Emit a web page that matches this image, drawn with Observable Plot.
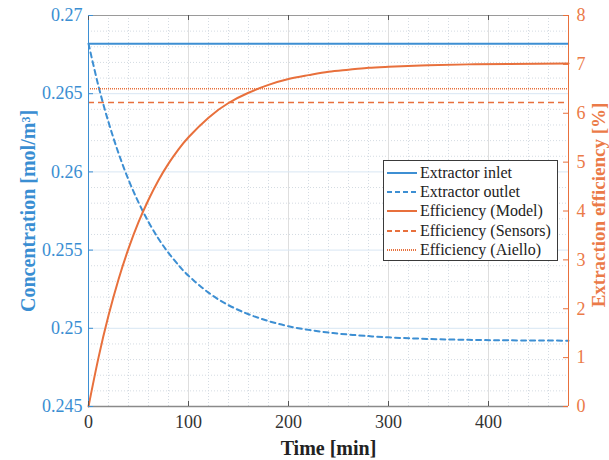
<!DOCTYPE html>
<html><head><meta charset="utf-8">
<script src="https://cdn.jsdelivr.net/npm/d3@7"></script>
<script src="https://cdn.jsdelivr.net/npm/@observablehq/plot@0.6"></script>
<style>
body{margin:0;background:#fff;}
#wrap{position:relative;width:609px;height:460px;}
#chart svg, #chart svg text{font-family:"Liberation Serif","Times New Roman",serif !important;}
#legend{position:absolute;left:383px;top:160px;width:175px;height:101px;background:#fff;border:1px solid #3a3a3a;box-sizing:border-box;font-family:"Liberation Serif",serif;font-size:16px;color:#222;padding-top:2px;}
#legend .row{height:19.3px;display:flex;align-items:center;}
#legend svg{margin-left:3px;margin-right:3px;flex:none;}
</style></head>
<body><div id="wrap"><div id="chart"></div><div id="legend"></div></div>
<script>
// ---- data ----
const time = [0,10,20,30,40,50,60,70,80,90,100,120,140,160,180,200,220,240,260,280,300,340,380,420,480];
const outletConc = [0.2682,0.26548,0.26318,0.26120,0.25950,0.25805,0.25680,0.25573,0.25482,0.25404,0.25336,0.25228,0.25148,0.25090,0.25046,0.25013,0.24990,0.24973,0.24960,0.24950,0.24942,0.24932,0.24926,0.24923,0.24921];
const effModel = [0,1.00,1.86,2.60,3.23,3.77,4.23,4.63,4.97,5.26,5.51,5.91,6.21,6.42,6.58,6.70,6.78,6.85,6.89,6.93,6.95,6.98,7.00,7.01,7.02];
const inletConc = 0.2682;
const effSensors = 6.22;
const effAiello = 6.5;
const timeTicks = [0,100,200,300,400];
const concTicks = [0.245,0.25,0.255,0.26,0.265,0.27];
const effTicks = [0,1,2,3,4,5,6,7,8];
const legendItems = ["Extractor inlet","Extractor outlet","Efficiency (Model)","Efficiency (Sensors)","Efficiency (Aiello)"];

// ---- styling ----
const blue = "#3d8fd3", orange = "#e8703c";
const blueText = "#3a8ed2", orangeText = "#eb7a48";
const cMin = 0.245, cMax = 0.27, eMax = 8;
const e2c = e => cMin + e / eMax * (cMax - cMin);
const W = 609, H = 460, mL = 88, mR = 41, mT = 15, mB = 54;
const pw = W - mL - mR, ph = H - mT - mB;

const minorX = d3.range(0, 481, 20).filter(d => d % 100 !== 0);
const minorY = d3.range(245, 271).filter(i => i % 5 !== 0).map(i => i / 1000);

const outletData = time.map((t, i) => ({t, c: outletConc[i]}));
const effData = time.map((t, i) => ({t, e: effModel[i]}));
const fmtC = d3.format(".3~f");

const font = "Liberation Serif";
const chart = Plot.plot({
  width: W, height: H, marginLeft: mL, marginRight: mR, marginTop: mT, marginBottom: mB,
  x: {domain: [0, 480], axis: null},
  y: {domain: [cMin, cMax], axis: null},
  style: {fontFamily: font, fontSize: "18px", background: "white"},
  marks: [
    Plot.gridX(minorX, {stroke: "#d4dbe2", strokeOpacity: 1, strokeDasharray: "1,2"}),
    Plot.gridY(minorY, {stroke: "#d4dbe2", strokeOpacity: 1, strokeDasharray: "1,2"}),
    Plot.gridX(timeTicks, {stroke: "#dedede", strokeOpacity: 1}),
    Plot.gridY(concTicks, {stroke: "#d8e6f3", strokeOpacity: 1}),
    // series
    Plot.ruleY([inletConc], {stroke: blue, strokeWidth: 2}),
    Plot.line(outletData, {x: "t", y: "c", stroke: blue, strokeWidth: 2, strokeDasharray: "5,4", curve: "natural"}),
    Plot.line(effData, {x: "t", y: d => e2c(d.e), stroke: orange, strokeWidth: 2, curve: "natural"}),
    Plot.ruleY([e2c(effSensors)], {stroke: orange, strokeWidth: 1.6, strokeDasharray: "6,4"}),
    Plot.ruleY([e2c(effAiello)], {stroke: orange, strokeWidth: 1.6, strokeDasharray: "1,1"}),
    // frame
    Plot.ruleY([cMax], {stroke: "#9a9a9a", strokeWidth: 1.2}),
    Plot.ruleY([cMin], {stroke: "#8a8a8a", strokeWidth: 1.6}),
    Plot.ruleX([0], {stroke: blue, strokeWidth: 1}),
    Plot.ruleX([480], {stroke: orange, strokeWidth: 1}),
    // inward ticks
    Plot.ruleX(timeTicks, {insetTop: ph - 5, stroke: "#555"}),
    Plot.ruleX(timeTicks, {insetBottom: ph - 5, stroke: "#555"}),
    Plot.ruleY(concTicks, {insetRight: pw - 5, stroke: blue}),
    Plot.ruleY(effTicks.map(e2c), {insetLeft: pw - 5, stroke: orange}),
    // tick labels
    Plot.text(timeTicks, {x: d => d, text: d => String(d), frameAnchor: "bottom", lineAnchor: "top", dy: 9, fill: "#333", fontSize: 18, fontFamily: font}),
    Plot.text(concTicks, {y: d => d, text: d => fmtC(d), frameAnchor: "left", textAnchor: "end", lineAnchor: "middle", dx: -6, fill: blueText, fontSize: 18, fontFamily: font}),
    Plot.text(effTicks, {y: d => e2c(d), text: d => String(d), frameAnchor: "right", textAnchor: "start", lineAnchor: "middle", dx: 8, fill: orangeText, fontSize: 18, fontFamily: font}),
    // axis titles
    Plot.text(["Time [min]"], {text: d => d, frameAnchor: "bottom", lineAnchor: "middle", textAnchor: "middle", dy: 42, fontWeight: "bold", fontSize: 20, fontFamily: font, fill: "#222"}),
    Plot.text(["Concentration [mol/m³]"], {text: d => d, frameAnchor: "left", lineAnchor: "middle", textAnchor: "middle", dx: -60, rotate: -90, fontWeight: "bold", fontSize: 20, fontFamily: font, fill: blueText}),
    Plot.text(["Extraction efficiency [%]"], {text: d => d, frameAnchor: "right", lineAnchor: "middle", textAnchor: "middle", dx: 30, dy: -6, rotate: -90, fontWeight: "bold", fontSize: 19, fontFamily: font, fill: orangeText})
  ]
});
document.getElementById("chart").appendChild(chart);

// legend
const styles = [
  {stroke: blue, dash: null},
  {stroke: blue, dash: "5,3"},
  {stroke: orange, dash: null},
  {stroke: orange, dash: "5,3"},
  {stroke: orange, dash: "1,1"}
];
const leg = d3.select("#legend");
legendItems.forEach((name, i) => {
  const row = leg.append("div").attr("class", "row");
  const s = row.append("svg").attr("width", 30).attr("height", 10);
  s.append("line").attr("x1", 0).attr("x2", 30).attr("y1", 5).attr("y2", 5)
    .attr("stroke", styles[i].stroke).attr("stroke-width", 2)
    .attr("stroke-dasharray", styles[i].dash);
  row.append("span").text(name);
});
</script>
</body></html>
